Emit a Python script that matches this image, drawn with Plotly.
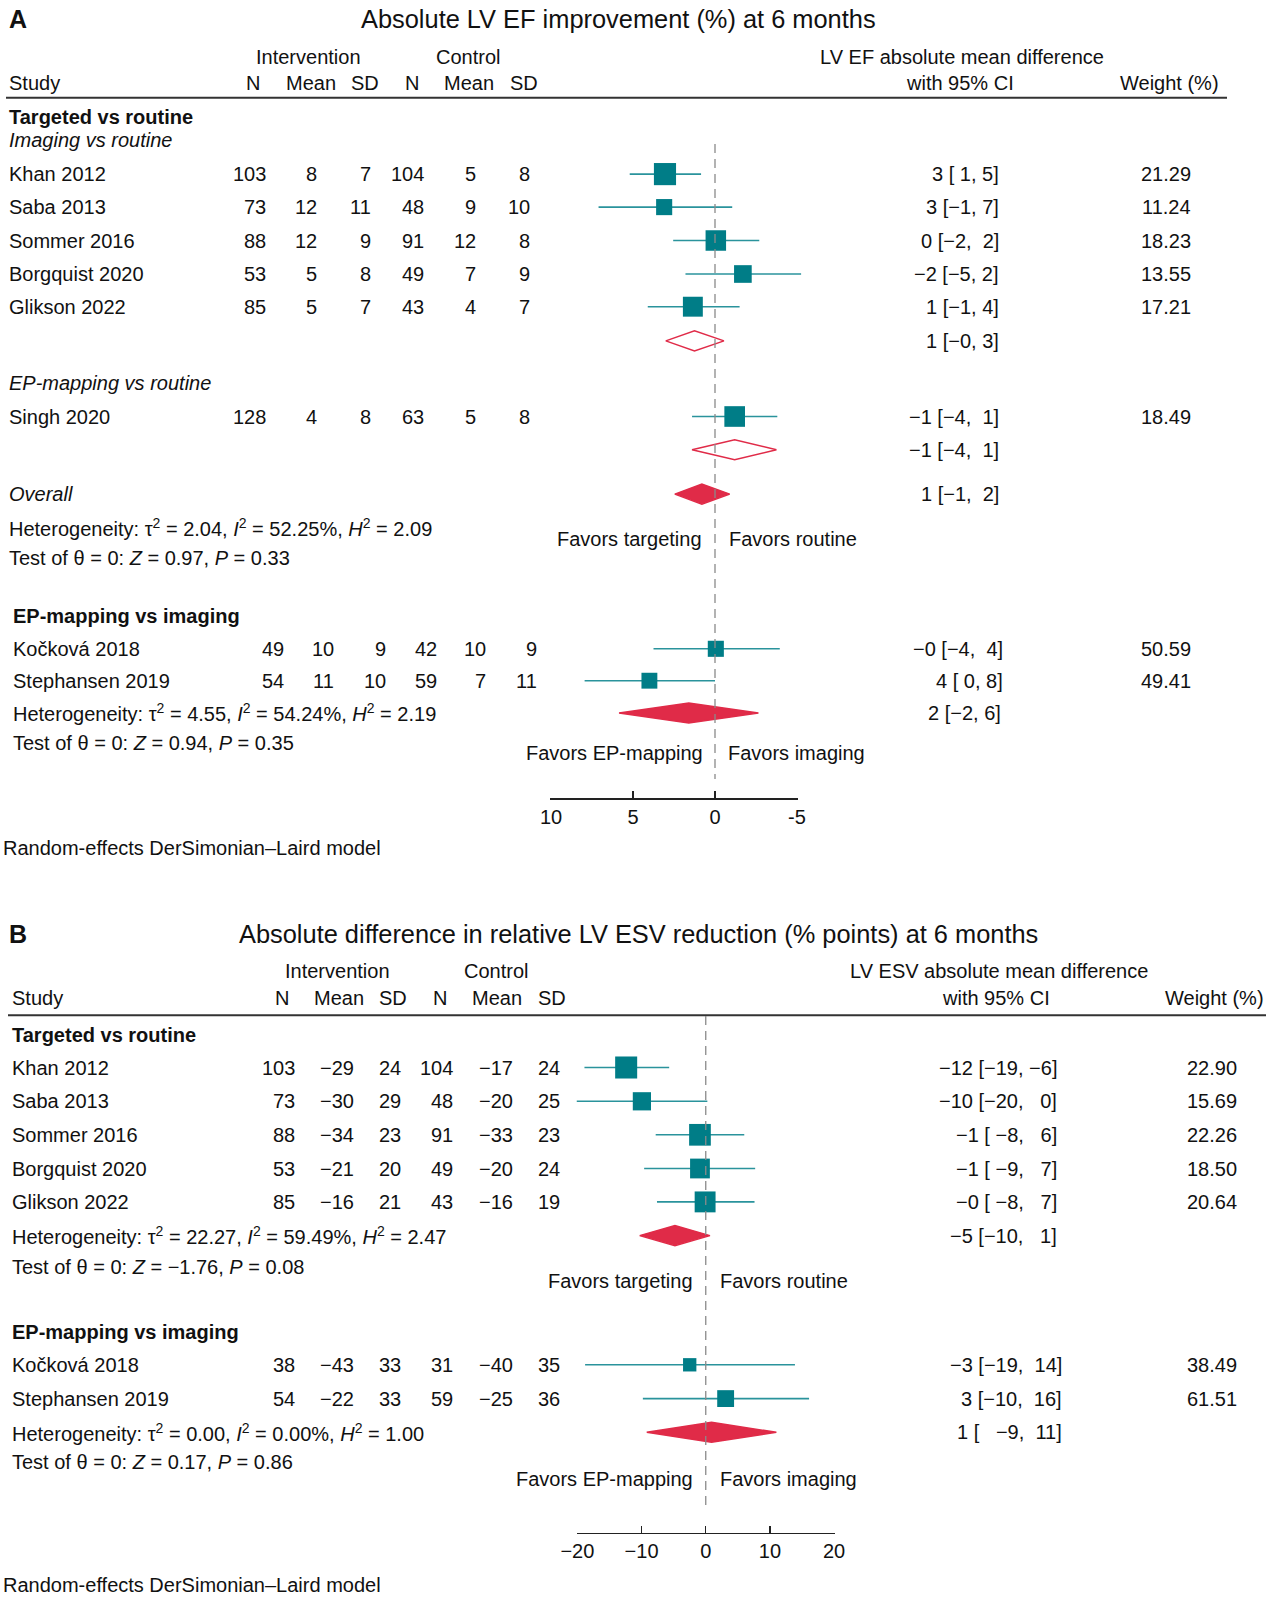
import plotly.graph_objects as go

W, H = 1272, 1597
FONT = "Liberation Sans, Arial, Helvetica, sans-serif"

# ======================= DATA: panel A (LV EF) =======================
A_title = "Absolute LV EF improvement (%) at 6 months"
A_effect_head = ["LV EF absolute mean difference", "with 95% CI"]
A_ticks = [10, 5, 0, -5]
A_ticktext = ["10", "5", "0", "-5"]

A_study1 = ["Khan 2012", "Saba 2013", "Sommer 2016", "Borgquist 2020", "Glikson 2022"]
A_int_n1 = [103, 73, 88, 53, 85]
A_int_mean1 = [8, 12, 12, 5, 5]
A_int_sd1 = [7, 11, 9, 8, 7]
A_ctl_n1 = [104, 48, 91, 49, 43]
A_ctl_mean1 = [5, 9, 12, 7, 4]
A_ctl_sd1 = [8, 10, 8, 9, 7]
A_es1 = [3.05, 3.1, -0.05, -1.7, 1.35]
A_lo1 = [0.85, -1.05, -2.7, -5.25, -1.5]
A_hi1 = [5.2, 7.1, 2.55, 1.8, 4.1]
A_ci1 = ["3 [ 1, 5]", "3 [\u22121, 7]", "0 [\u22122,\u00a0 2]", "\u22122 [\u22125, 2]", "1 [\u22121, 4]"]
A_w1 = [21.29, 11.24, 18.23, 13.55, 17.21]
A_sub1 = [1.25, -0.55, 3.0]          # estimate, lower, upper
A_sub1_txt = "1 [\u22120, 3]"

A_study_ep = ["Singh 2020"]
A_int_n_ep = [128]
A_int_mean_ep = [4]
A_int_sd_ep = [8]
A_ctl_n_ep = [63]
A_ctl_mean_ep = [5]
A_ctl_sd_ep = [8]
A_es_ep = [-1.2]
A_lo_ep = [-3.8]
A_hi_ep = [1.4]
A_ci_ep = ["\u22121 [\u22124,\u00a0 1]"]
A_w_ep = [18.49]
A_sub_ep = [-1.2, -3.75, 1.4]
A_sub_ep_txt = "\u22121 [\u22124,\u00a0 1]"

A_overall = [0.8, -0.9, 2.45]
A_overall_txt = "1 [\u22121,\u00a0 2]"
A_het1 = "Heterogeneity: \u03c4<sup>2</sup> = 2.04, <i>I</i><sup>2</sup> = 52.25%, <i>H</i><sup>2</sup> = 2.09"
A_test1 = "Test of \u03b8 = 0: <i>Z</i> = 0.97, <i>P</i> = 0.33"

A_study2 = ["Ko\u010dkov\u00e1 2018", "Stephansen 2019"]
A_int_n2 = [49, 54]
A_int_mean2 = [10, 11]
A_int_sd2 = [9, 10]
A_ctl_n2 = [42, 59]
A_ctl_mean2 = [10, 7]
A_ctl_sd2 = [9, 11]
A_es2 = [-0.05, 4.0]
A_lo2 = [-3.95, 0.0]
A_hi2 = [3.75, 7.95]
A_ci2 = ["\u22120 [\u22124,\u00a0 4]", "4 [ 0, 8]"]
A_w2 = [50.59, 49.41]
A_sub2 = [1.6, -2.65, 5.85]
A_sub2_txt = "2 [\u22122, 6]"
A_het2 = "Heterogeneity: \u03c4<sup>2</sup> = 4.55, <i>I</i><sup>2</sup> = 54.24%, <i>H</i><sup>2</sup> = 2.19"
A_test2 = "Test of \u03b8 = 0: <i>Z</i> = 0.94, <i>P</i> = 0.35"

# ======================= DATA: panel B (LV ESV) =======================
B_title = "Absolute difference in relative LV ESV reduction (% points) at 6 months"
B_effect_head = ["LV ESV absolute mean difference", "with 95% CI"]
B_ticks = [-20, -10, 0, 10, 20]
B_ticktext = ["\u221220", "\u221210", "0", "10", "20"]

B_study1 = ["Khan 2012", "Saba 2013", "Sommer 2016", "Borgquist 2020", "Glikson 2022"]
B_int_n1 = [103, 73, 88, 53, 85]
B_int_mean1 = [-29, -30, -34, -21, -16]
B_int_sd1 = [24, 29, 23, 20, 21]
B_ctl_n1 = [104, 48, 91, 49, 43]
B_ctl_mean1 = [-17, -20, -33, -20, -16]
B_ctl_sd1 = [24, 25, 23, 24, 19]
B_es1 = [-12.4, -9.95, -0.9, -0.9, -0.1]
B_lo1 = [-18.9, -20.1, -7.8, -9.6, -7.6]
B_hi1 = [-5.7, 0.25, 6.0, 7.7, 7.6]
B_ci1 = ["\u221212 [\u221219, \u22126]", "\u221210 [\u221220,\u00a0 \u00a00]",
         "\u22121 [ \u22128,\u00a0 \u00a06]", "\u22121 [ \u22129,\u00a0 \u00a07]", "\u22120 [ \u22128,\u00a0 \u00a07]"]
B_w1 = ["22.90", "15.69", "22.26", "18.50", "20.64"]
B_sub1 = [-4.8, -10.3, 0.65]
B_sub1_txt = "\u22125 [\u221210,\u00a0 \u00a01]"
B_het1 = "Heterogeneity: \u03c4<sup>2</sup> = 22.27, <i>I</i><sup>2</sup> = 59.49%, <i>H</i><sup>2</sup> = 2.47"
B_test1 = "Test of \u03b8 = 0: <i>Z</i> = \u22121.76, <i>P</i> = 0.08"

B_study2 = ["Ko\u010dkov\u00e1 2018", "Stephansen 2019"]
B_int_n2 = [38, 54]
B_int_mean2 = [-43, -22]
B_int_sd2 = [33, 33]
B_ctl_n2 = [31, 59]
B_ctl_mean2 = [-40, -25]
B_ctl_sd2 = [35, 36]
B_es2 = [-2.5, 3.1]
B_lo2 = [-18.8, -9.8]
B_hi2 = [13.9, 16.1]
B_ci2 = ["\u22123 [\u221219,\u00a0 14]", "3 [\u221210,\u00a0 16]"]
B_w2 = ["38.49", "61.51"]
B_sub2 = [0.9, -9.2, 11.0]
B_sub2_txt = "1 [\u00a0 \u00a0\u22129,\u00a0 11]"
B_het2 = "Heterogeneity: \u03c4<sup>2</sup> = 0.00, <i>I</i><sup>2</sup> = 0.00%, <i>H</i><sup>2</sup> = 1.00"
B_test2 = "Test of \u03b8 = 0: <i>Z</i> = 0.17, <i>P</i> = 0.86"

FOOTNOTE = "Random-effects DerSimonian\u2013Laird model"

# ======================= STYLE / LAYOUT =======================
TEAL = "#007D87"
TEAL_LINE = "#2A939C"
RED = "#E02B48"
TXT = "#111111"
GREY = "#8a8a8a"


def fmt(v):
    return str(v).replace("-", "\u2212") if isinstance(v, int) else str(v)


fig = go.Figure()
ann = []
shapes = []


def px(x):
    return x / W


def py(y):
    return 1 - y / H


def text(x, y, s, anchor="left", size=20, bold=False, italic=False, xref="paper", xshift=0):
    if bold:
        s = "<b>" + s + "</b>"
    if italic:
        s = "<i>" + s + "</i>"
    ann.append(dict(x=px(x) if xref == "paper" else x, y=py(y), xref=xref, yref="paper",
                    text=s, showarrow=False, xanchor=anchor, yanchor="middle",
                    xshift=xshift, borderpad=0,
                    font=dict(family=FONT, size=size, color=TXT)))


def hline(x0, x1, y, width=2, color="#333333"):
    shapes.append(dict(type="line", xref="paper", yref="paper", x0=px(x0), x1=px(x1),
                       y0=py(y), y1=py(y), line=dict(color=color, width=width)))


def forest(xaxis, ys, es, lo, hi, weights, k):
    xs, yy = [], []
    for y, a, b in zip(ys, lo, hi):
        xs += [a, b, None]
        yy += [y, y, None]
    fig.add_trace(go.Scatter(x=xs, y=yy, xaxis=xaxis, yaxis="y", mode="lines",
                             line=dict(color=TEAL_LINE, width=1.6), hoverinfo="skip"))
    fig.add_trace(go.Scatter(x=es, y=ys, xaxis=xaxis, yaxis="y", mode="markers",
                             marker=dict(symbol="square", color=TEAL, opacity=1,
                                         size=[k * float(w) ** 0.5 for w in weights],
                                         line=dict(width=0)),
                             hoverinfo="skip"))


def diamond(xaxis, y, est, filled, hh=10):
    e, a, b = est
    fig.add_trace(go.Scatter(x=[a, e, b, e, a], y=[y, y - hh, y, y + hh, y], xaxis=xaxis, yaxis="y",
                             mode="lines", fill="toself",
                             fillcolor=RED if filled else "rgba(255,255,255,0)",
                             line=dict(color=RED, width=1.5), hoverinfo="skip"))


def table_rows(ys, cols_x, cols, name_x, names):
    for i, y in enumerate(ys):
        text(name_x, y, names[i])
        for cx, col in zip(cols_x, cols):
            text(cx, y, fmt(col[i]), anchor="right")


EPS = 0.6  # px of slack so the end ticks are kept

# ---------------- Panel A geometry ----------------
A_axis_px = (551.0, 797.0)        # pixel positions of 10 and -5
A_axis_y = 798.4
A_scale = (A_axis_px[1] - A_axis_px[0]) / (A_ticks[0] - A_ticks[-1])
A_range = [A_ticks[0] + A_axis_px[0] / A_scale, A_ticks[0] - (W - A_axis_px[0]) / A_scale]

A_y1 = [174.1, 207.1, 240.5, 274.0, 306.7]
A_sub1_y = 340.9
A_ep_head_y = 383.0
A_ep_y = [416.5]
A_sub_ep_y = 449.8
A_overall_y = 494.1
A_y2 = [648.8, 680.7]
A_sub2_y = 712.9

A_cols1 = [267, 318, 372, 424.5, 476.7, 531.4]
A_cols2 = [285, 334.7, 387, 437.6, 486.5, 538]
A_ci_x = 1000
A_w_x = 1191.5

text(8, 19.5, "A", size=25, bold=True)
text(618, 19.5, A_title, anchor="center", size=25.4)
text(308.6, 57, "Intervention", anchor="center")
text(467.5, 57, "Control", anchor="center")
text(962, 57, A_effect_head[0], anchor="center")
text(8, 83.5, "Study")
for hx, h in zip([261, 336.7, 380.4, 419.6, 495, 538.8], ["N", "Mean", "SD", "N", "Mean", "SD"]):
    text(hx, 83.5, h, anchor="right")
text(1015, 83.5, A_effect_head[1], anchor="right")
text(1220, 83.5, "Weight (%)", anchor="right")
hline(6, 1227, 97.8)

text(8, 117.1, "Targeted vs routine", bold=True)
text(8, 140.5, "Imaging vs routine", italic=True)
table_rows(A_y1, A_cols1, [A_int_n1, A_int_mean1, A_int_sd1, A_ctl_n1, A_ctl_mean1, A_ctl_sd1], 8, A_study1)
for y, c, w in zip(A_y1, A_ci1, A_w1):
    text(A_ci_x, y, c, anchor="right")
    text(A_w_x, y, f"{w:.2f}", anchor="right")
text(A_ci_x, A_sub1_y, A_sub1_txt, anchor="right")
text(8, A_ep_head_y, "EP-mapping vs routine", italic=True)
table_rows(A_ep_y, A_cols1, [A_int_n_ep, A_int_mean_ep, A_int_sd_ep, A_ctl_n_ep, A_ctl_mean_ep, A_ctl_sd_ep], 8, A_study_ep)
for y, c, w in zip(A_ep_y, A_ci_ep, A_w_ep):
    text(A_ci_x, y, c, anchor="right")
    text(A_w_x, y, f"{w:.2f}", anchor="right")
text(A_ci_x, A_sub_ep_y, A_sub_ep_txt, anchor="right")
text(8, A_overall_y, "Overall", italic=True)
text(A_ci_x, A_overall_y, A_overall_txt, anchor="right")
text(8, 527.5, A_het1)
text(8, 558.0, A_test1)
text(0, 538.7, "Favors targeting", anchor="right", xref="x", xshift=-12)
text(0, 538.7, "Favors routine", anchor="left", xref="x", xshift=13)

text(12, 616.0, "EP-mapping vs imaging", bold=True)
table_rows(A_y2, A_cols2, [A_int_n2, A_int_mean2, A_int_sd2, A_ctl_n2, A_ctl_mean2, A_ctl_sd2], 12, A_study2)
for y, c, w in zip(A_y2, A_ci2, A_w2):
    text(A_ci_x + 4, y, c, anchor="right")
    text(A_w_x, y, f"{w:.2f}", anchor="right")
text(A_ci_x + 2, A_sub2_y, A_sub2_txt, anchor="right")
text(12, A_sub2_y, A_het2)
text(12, 743.4, A_test2)
text(0, 752.6, "Favors EP-mapping", anchor="right", xref="x", xshift=-11)
text(0, 752.6, "Favors imaging", anchor="left", xref="x", xshift=12)
text(2, 848.3, FOOTNOTE)

shapes.append(dict(type="line", xref="x", yref="y", x0=0, x1=0, y0=144, y1=779,
                   line=dict(color=GREY, width=1.3, dash="9px,6px")))

forest("x", A_y1, A_es1, A_lo1, A_hi1, A_w1, 4.8)
forest("x", A_ep_y, A_es_ep, A_lo_ep, A_hi_ep, A_w_ep, 4.8)
forest("x", A_y2, A_es2, A_lo2, A_hi2, A_w2, 2.26)
diamond("x", A_sub1_y, A_sub1, False)
diamond("x", A_sub_ep_y, A_sub_ep, False)
diamond("x", A_overall_y, A_overall, True)
diamond("x", A_sub2_y, A_sub2, True)

# ---------------- Panel B geometry ----------------
B_axis_px = (577.4, 834.1)        # pixel positions of -20 and 20
B_axis_y = 1532.7
B_scale = (B_axis_px[1] - B_axis_px[0]) / (B_ticks[-1] - B_ticks[0])
B_range = [B_ticks[0] - B_axis_px[0] / B_scale, B_ticks[0] + (W - B_axis_px[0]) / B_scale]

B_y1 = [1067.5, 1101.3, 1134.8, 1168.5, 1201.9]
B_sub1_y = 1235.6
B_y2 = [1364.8, 1398.6]
B_sub2_y = 1432.3
B_cols = [296, 355, 402, 454, 514, 561]
B_w_x = 1238

text(8, 933.9, "B", size=25, bold=True)
text(638, 933.9, B_title, anchor="center", size=25.4)
text(337, 970.5, "Intervention", anchor="center")
text(496, 970.5, "Control", anchor="center")
text(999, 970.5, B_effect_head[0], anchor="center")
text(11, 998, "Study")
for hx, h in zip([290, 364.5, 408, 448, 523, 567], ["N", "Mean", "SD", "N", "Mean", "SD"]):
    text(hx, 998, h, anchor="right")
text(1051, 998, B_effect_head[1], anchor="right")
text(1265, 998, "Weight (%)", anchor="right")
hline(8, 1266, 1015.3)

text(11, 1034.7, "Targeted vs routine", bold=True)
table_rows(B_y1, B_cols, [B_int_n1, B_int_mean1, B_int_sd1, B_ctl_n1, B_ctl_mean1, B_ctl_sd1], 11, B_study1)
for y, c, w in zip(B_y1, B_ci1, B_w1):
    text(1058, y, c, anchor="right")
    text(B_w_x, y, w, anchor="right")
text(1058, B_sub1_y, B_sub1_txt, anchor="right")
text(11, B_sub1_y, B_het1)
text(11, 1266.9, B_test1)
text(0, 1281.1, "Favors targeting", anchor="right", xref="x2", xshift=-12)
text(0, 1281.1, "Favors routine", anchor="left", xref="x2", xshift=13)

text(11, 1332.0, "EP-mapping vs imaging", bold=True)
table_rows(B_y2, B_cols, [B_int_n2, B_int_mean2, B_int_sd2, B_ctl_n2, B_ctl_mean2, B_ctl_sd2], 11, B_study2)
for y, c, w in zip(B_y2, B_ci2, B_w2):
    text(1063, y, c, anchor="right")
    text(B_w_x, y, w, anchor="right")
text(1063, B_sub2_y, B_sub2_txt, anchor="right")
text(11, B_sub2_y, B_het2)
text(11, 1462.4, B_test2)
text(0, 1478.7, "Favors EP-mapping", anchor="right", xref="x2", xshift=-12)
text(0, 1478.7, "Favors imaging", anchor="left", xref="x2", xshift=13)
text(2, 1584.6, FOOTNOTE)

shapes.append(dict(type="line", xref="x2", yref="y", x0=0, x1=0, y0=1016, y1=1505,
                   line=dict(color=GREY, width=1.3, dash="9px,6px")))

forest("x2", B_y1, B_es1, B_lo1, B_hi1, B_w1, 4.6)
forest("x2", B_y2, B_es2, B_lo2, B_hi2, B_w2, 2.15)
diamond("x2", B_sub1_y, B_sub1, True)
diamond("x2", B_sub2_y, B_sub2, True)

# invisible anchors for the tick axes
fig.add_trace(go.Scatter(x=[A_ticks[0], A_ticks[-1]], y=[A_axis_y, A_axis_y], xaxis="x3", yaxis="y",
                         mode="markers", marker=dict(opacity=0), hoverinfo="skip"))
fig.add_trace(go.Scatter(x=[B_ticks[0], B_ticks[-1]], y=[B_axis_y, B_axis_y], xaxis="x4", yaxis="y",
                         mode="markers", marker=dict(opacity=0), hoverinfo="skip"))

tick_axis = dict(showline=True, linecolor="#222222", linewidth=1.3, ticks="inside", ticklen=7,
                 tickwidth=1.3, tickcolor="#222222", showgrid=False, zeroline=False,
                 tickfont=dict(family=FONT, size=20, color=TXT), anchor="free", side="bottom",
                 fixedrange=True, automargin=False)

A_eps_u = EPS / A_scale
B_eps_u = EPS / B_scale

fig.update_layout(
    template="none",
    width=W, height=H, margin=dict(l=0, r=0, t=0, b=0, pad=0, autoexpand=False),
    paper_bgcolor="white", plot_bgcolor="rgba(0,0,0,0)", showlegend=False,
    font=dict(family=FONT, color=TXT),
    xaxis=dict(domain=[0, 1], range=A_range, visible=False, anchor="y", fixedrange=True, automargin=False),
    xaxis2=dict(domain=[0, 1], range=B_range, visible=False, anchor="y", overlaying="x",
                fixedrange=True, automargin=False),
    xaxis3=dict(domain=[(A_axis_px[0] - EPS) / W, (A_axis_px[1] + EPS) / W],
                range=[A_ticks[0] + A_eps_u, A_ticks[-1] - A_eps_u],
                tickvals=A_ticks, ticktext=A_ticktext, position=py(A_axis_y), **tick_axis),
    xaxis4=dict(domain=[(B_axis_px[0] - EPS) / W, (B_axis_px[1] + EPS) / W],
                range=[B_ticks[0] - B_eps_u, B_ticks[-1] + B_eps_u],
                tickvals=B_ticks, ticktext=B_ticktext, position=py(B_axis_y), **tick_axis),
    yaxis=dict(domain=[0, 1], range=[H, 0], visible=False, fixedrange=True, automargin=False),
    annotations=ann, shapes=shapes,
)

fig.write_html("out.html",
               config={"displayModeBar": False, "staticPlot": True},
               post_script="document.body.style.margin='0px';document.body.style.padding='0px';"
                           "document.documentElement.style.overflow='hidden';")
